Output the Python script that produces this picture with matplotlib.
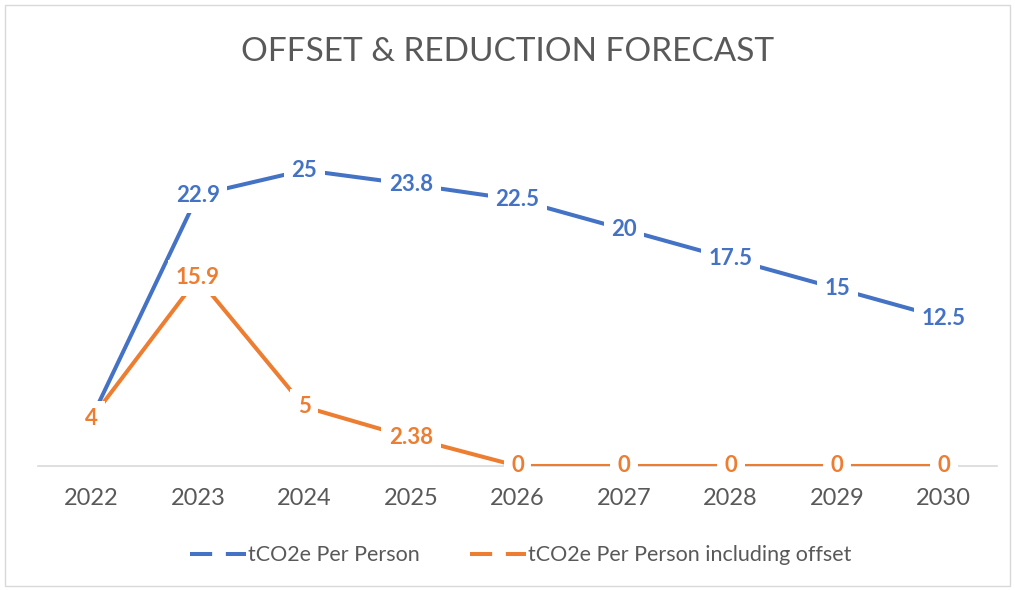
import matplotlib.pyplot as plt
from matplotlib.lines import Line2D
from matplotlib.patches import Rectangle

# data
years = ['2022', '2023', '2024', '2025', '2026', '2027', '2028', '2029', '2030']
per_person = [4, 22.9, 25, 23.8, 22.5, 20, 17.5, 15, 12.5]
per_person_offset = [4, 15.9, 5, 2.38, 0, 0, 0, 0, 0]
per_person_labels = ['4', '22.9', '25', '23.8', '22.5', '20', '17.5', '15', '12.5']
offset_labels = ['4', '15.9', '5', '2.38', '0', '0', '0', '0', '0']

BLUE = '#4472C4'
ORANGE = '#ED7D31'
GREY = '#595959'
FONT = 'Lato'


def add_labels(ax, xs, ys, labels, color, z):
    # excel style centred labels on a white box that hides the line
    for x, y, s in zip(xs, ys, labels):
        ax.text(x, y, s, ha='center', va='center', color=color,
                fontsize=16, fontweight='bold', family=FONT, zorder=z,
                bbox=dict(facecolor='white', edgecolor='none', pad=5.5))


fig = plt.figure(figsize=(10.15, 5.9), dpi=100)
ax = fig.add_axes([38 / 1015, 124 / 590, 959 / 1015, 355 / 590])

xs = list(range(len(years)))
ax.plot(xs, per_person, color=BLUE, lw=2.9, zorder=2, solid_capstyle='butt')
ax.plot(xs, per_person_offset, color=ORANGE, lw=2.9, zorder=2, solid_capstyle='butt')
add_labels(ax, xs, per_person, per_person_labels, BLUE, 4)
add_labels(ax, xs, per_person_offset, offset_labels, ORANGE, 5)

ax.set_xlim(-0.5, len(years) - 0.5)
ax.set_ylim(0, 30)
ax.set_xticks(xs)
ax.set_xticklabels(years, family=FONT, fontsize=17, color=GREY)
ax.set_yticks([])
ax.tick_params(axis='x', length=0, pad=16)
for side in ['top', 'right', 'left']:
    ax.spines[side].set_visible(False)
ax.spines['bottom'].set_color('#D9D9D9')
ax.spines['bottom'].set_linewidth(1.2)
ax.spines['bottom'].set_zorder(1)

fig.text(0.5, 0.912, 'OFFSET & REDUCTION FORECAST', ha='center', va='center',
         fontsize=24, color=GREY, family=FONT)

handles = [Line2D([], [], color=BLUE, lw=2.9, dashes=(5.5, 3.4)),
           Line2D([], [], color=ORANGE, lw=2.9, dashes=(5.5, 3.4))]
fig.legend(handles, ['tCO2e Per Person', 'tCO2e Per Person including offset'],
           loc='center', bbox_to_anchor=(0.513, 0.059), ncol=2, frameon=False,
           prop={'family': FONT, 'size': 15.5}, labelcolor=GREY,
           handlelength=2.6, handletextpad=0.1, columnspacing=2.3)

# thin grey border around the whole chart
fig.patches.append(Rectangle((5 / 1015, 4 / 590), 1005 / 1015, 581 / 590,
                             transform=fig.transFigure, fill=False,
                             edgecolor='#D9D9D9', lw=1))

fig.savefig('out.png', dpi=100)
